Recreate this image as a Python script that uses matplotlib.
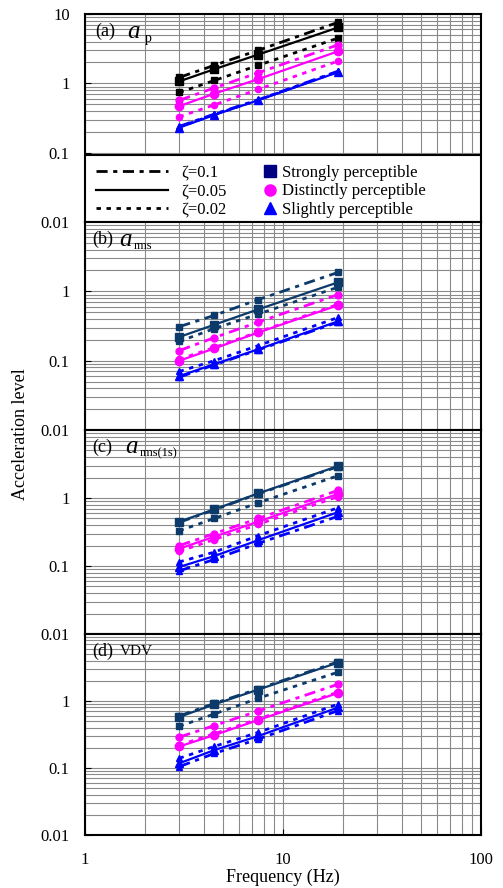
import matplotlib
matplotlib.use("Agg")
import matplotlib.pyplot as plt
from matplotlib.lines import Line2D
from matplotlib.patches import Rectangle

plt.rcParams['font.family'] = ['Liberation Serif', 'DejaVu Serif']
plt.rcParams['mathtext.fontset'] = 'custom'
plt.rcParams['mathtext.rm'] = 'Liberation Serif'
plt.rcParams['mathtext.it'] = 'Liberation Serif:italic'

# frequencies (Hz)
freq = [3, 4.5, 7.5, 19]
zetas = ["0.1", "0.05", "0.02"]
levels = ["Strongly perceptible", "Distinctly perceptible", "Slightly perceptible"]

# each list: [zeta=0.1, zeta=0.05, zeta=0.02]
ap_strong = [[1.22, 1.82, 3.0, 7.6], [1.07, 1.6, 2.6, 6.4], [0.74, 1.1, 1.82, 4.5]]
ap_dist = [[0.57, 0.86, 1.42, 3.6], [0.47, 0.71, 1.15, 2.9], [0.33, 0.49, 0.82, 2.1]]
ap_slight = [[0.24, 0.36, 0.58, 1.5], [0.23, 0.35, 0.57, 1.45], [0.235, 0.355, 0.575, 1.48]]

rms_strong = [[0.31, 0.45, 0.76, 1.88], [0.22, 0.33, 0.55, 1.35], [0.19, 0.29, 0.47, 1.15]]
rms_dist = [[0.14, 0.215, 0.36, 0.9], [0.10, 0.15, 0.255, 0.63], [0.105, 0.155, 0.26, 0.65]]
rms_slight = [[0.058, 0.087, 0.143, 0.36], [0.06, 0.089, 0.146, 0.37], [0.07, 0.1, 0.165, 0.42]]

rms1s_strong = [[0.44, 0.67, 1.15, 2.9], [0.45, 0.68, 1.17, 2.95], [0.33, 0.5, 0.85, 2.13]]
rms1s_dist = [[0.2, 0.3, 0.5, 1.3], [0.18, 0.27, 0.45, 1.15], [0.165, 0.245, 0.41, 1.05]]
rms1s_slight = [[0.085, 0.125, 0.215, 0.54], [0.097, 0.14, 0.24, 0.62], [0.115, 0.16, 0.28, 0.72]]

vdv_strong = [[0.6, 0.92, 1.52, 3.85], [0.58, 0.89, 1.48, 3.75], [0.42, 0.64, 1.1, 2.7]]
vdv_dist = [[0.29, 0.43, 0.71, 1.78], [0.21, 0.31, 0.52, 1.32], [0.22, 0.325, 0.54, 1.36]]
vdv_slight = [[0.105, 0.165, 0.27, 0.72], [0.118, 0.185, 0.3, 0.8], [0.14, 0.21, 0.34, 0.9]]

panels = [
    (ap_strong, ap_dist, ap_slight, 'black'),
    (rms_strong, rms_dist, rms_slight, '#0B3A6B'),
    (rms1s_strong, rms1s_dist, rms1s_slight, '#0B3A6B'),
    (vdv_strong, vdv_dist, vdv_slight, '#0B3A6B'),
]

styles = [(0, (4, 2, 1.5, 2)), '-', (0, (1.6, 2))]
widths = [2.0, 1.6, 2.0]
msizes = [5, 6, 4.5]
markers = ['s', 'o', '^']

fig = plt.figure(figsize=(5.03, 8.88), dpi=100)
left, width = 85 / 503, 396 / 503
boxes = [(14, 222), (222, 430), (430, 634), (634, 835)]
axes = []
for top, bot in boxes:
    axes.append(fig.add_axes([left, 1 - bot / 888, width, (bot - top) / 888]))

for i, (ax, (strong, dist, slight, scol)) in enumerate(zip(axes, panels)):
    ax.set_xscale('log')
    ax.set_yscale('log')
    ax.set_xlim(1, 100)
    ax.set_ylim(0.01, 10)
    ax.grid(True, which='both', color='#8a8a8a', lw=0.8)
    ax.set_axisbelow(True)
    for j, (series, col) in enumerate(zip([strong, dist, slight], [scol, '#FF00FF', '#0000FF'])):
        for k in range(3):
            ax.plot(freq, series[k], color=col, ls=styles[k], lw=widths[k],
                    marker=markers[j], ms=msizes[k], mfc=col, mec=col, zorder=3)
    for s in ax.spines.values():
        s.set_linewidth(1.5)
    if i == 0:
        ax.set_yticks([0.01, 0.1, 1, 10])
        ax.set_yticklabels(['0.01', '0.1', '1', '10'])
    else:
        ax.set_yticks([0.01, 0.1, 1])
        ax.set_yticklabels(['0.01', '0.1', '1'])
    ax.tick_params(axis='y', which='major', direction='in', length=4, labelsize=12, pad=11)
    ax.tick_params(which='minor', length=0)
    ax.set_xticks([1, 10, 100])
    if i < 3:
        ax.tick_params(axis='x', which='major', length=0, labelbottom=False)
    else:
        ax.set_xticklabels(['1', '10', '100'])
        ax.tick_params(axis='x', which='major', direction='in', length=4, labelsize=12, pad=12)

# panel titles
axes[0].text(0.025, 0.915, '(a)', transform=axes[0].transAxes, fontsize=13, va='center')
axes[0].text(0.107, 0.915, r'$a$', transform=axes[0].transAxes, fontsize=18, va='center')
axes[0].text(0.15, 0.88, 'p', transform=axes[0].transAxes, fontsize=10, va='center')
axes[1].text(0.018, 0.915, '(b)', transform=axes[1].transAxes, fontsize=13, va='center')
axes[1].text(0.085, 0.915, r'$a$', transform=axes[1].transAxes, fontsize=18, va='center')
axes[1].text(0.122, 0.885, 'rms', transform=axes[1].transAxes, fontsize=9, va='center')
axes[2].text(0.018, 0.915, '(c)', transform=axes[2].transAxes, fontsize=13, va='center')
axes[2].text(0.1, 0.915, r'$a$', transform=axes[2].transAxes, fontsize=18, va='center')
axes[2].text(0.138, 0.885, 'rms(1s)', transform=axes[2].transAxes, fontsize=9, va='center')
axes[3].text(0.018, 0.915, '(d)', transform=axes[3].transAxes, fontsize=13, va='center')
axes[3].text(0.088, 0.915, 'VDV', transform=axes[3].transAxes, fontsize=11, va='center')

# legend box in panel (a)
ax = axes[0]
ax.add_patch(Rectangle((0, 0), 1, 0.322, transform=ax.transAxes, facecolor='white',
                       edgecolor='black', lw=1.5, zorder=4))
line_handles = [Line2D([], [], color='black', ls=styles[k], lw=widths[k]) for k in range(3)]
leg1 = ax.legend(line_handles, ['\u03b6=' + z for z in zetas], loc='lower left',
                 bbox_to_anchor=(0.028, 0.02), frameon=False, handlelength=4.3,
                 fontsize=12, labelspacing=0.15, handletextpad=0.8, borderpad=0,
                 borderaxespad=0)
leg1.set_zorder(5)
ax.add_artist(leg1)
mark_handles = [Line2D([], [], ls='none', marker='s', ms=8, color='#000080'),
                Line2D([], [], ls='none', marker='o', ms=8, color='#FF00FF'),
                Line2D([], [], ls='none', marker='^', ms=8, color='#0000FF')]
leg2 = ax.legend(mark_handles, levels, loc='lower left', bbox_to_anchor=(0.447, 0.02),
                 frameon=False, handlelength=1.0, fontsize=12, labelspacing=0.15,
                 handletextpad=0.2, borderpad=0, borderaxespad=0)
leg2.set_zorder(5)

fig.text(283 / 503, 1 - 877 / 888, 'Frequency (Hz)', ha='center', va='center', fontsize=13)
fig.text(21 / 503, 1 - 434 / 888, 'Acceleration level', ha='center', va='center',
         rotation=90, fontsize=13)

fig.savefig('out.png', dpi=100)
